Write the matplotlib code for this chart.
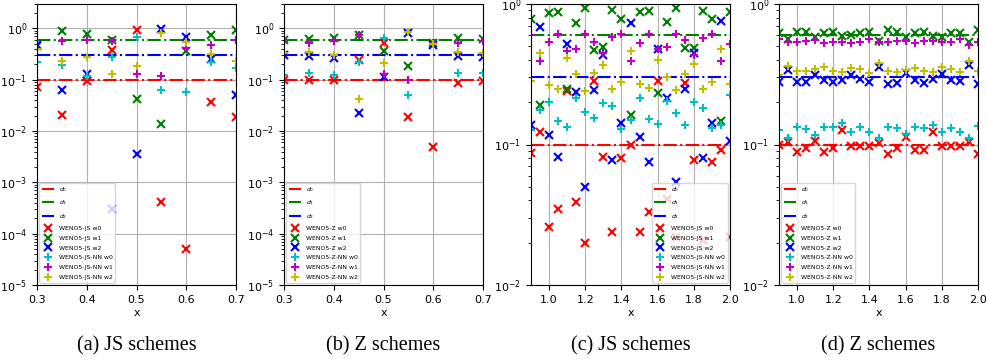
import matplotlib
matplotlib.use("Agg")
import matplotlib.pyplot as plt
from matplotlib.ticker import MultipleLocator

# poids ideaux
d_ideal = [0.1, 0.6, 0.3]

# (a) JS, zone 0.3 - 0.7
x_a = [0.3, 0.35, 0.4, 0.45, 0.5, 0.55, 0.6, 0.65, 0.7]
js_w0_a = [0.073, 0.0205, 0.095, 0.38, 0.95, 0.00041, 0.00005, 0.037, 0.019]
js_w1_a = [0.457, 0.89, 0.77, 0.6, 0.043, 0.014, 0.36, 0.74, 0.94]
js_w2_a = [0.47, 0.063, 0.13, 0.0003, 0.0036, 0.985, 0.69, 0.25, 0.05]
jsnn_w0_a = [0.22, 0.195, 0.12, 0.28, 0.69, 0.062, 0.058, 0.22, 0.17]
jsnn_w1_a = [0.39, 0.57, 0.6, 0.57, 0.13, 0.12, 0.42, 0.48, 0.59]
jsnn_w2_a = [0.39, 0.233, 0.28, 0.13, 0.186, 0.82, 0.55, 0.32, 0.233]

# (b) Z, zone 0.3 - 0.7
z_w0_b = [0.1, 0.098, 0.1, 0.24, 0.52, 0.0185, 0.0049, 0.088, 0.095]
z_w1_b = [0.6, 0.62, 0.64, 0.75, 0.37, 0.186, 0.53, 0.64, 0.62]
z_w2_b = [0.30, 0.29, 0.27, 0.023, 0.114, 0.80, 0.48, 0.29, 0.28]
znn_w0_b = [0.126, 0.138, 0.126, 0.22, 0.65, 0.05, 0.5, 0.134, 0.134]
znn_w1_b = [0.57, 0.53, 0.57, 0.74, 0.13, 0.1, 0.53, 0.53, 0.56]
znn_w2_b = [0.34, 0.35, 0.31, 0.042, 0.21, 0.87, 0.5, 0.35, 0.34]

# (c) JS, zone 0.9 - 2.0
x_c = [0.9, 0.95, 1.0, 1.05, 1.1, 1.15, 1.2, 1.25, 1.3, 1.35, 1.4, 1.45,
       1.5, 1.55, 1.6, 1.65, 1.7, 1.75, 1.8, 1.85, 1.9, 1.95, 2.0]
js_w0_c = [0.087, 0.122, 0.026, 0.035, 0.24, 0.039, 0.0198, 0.284, 0.081, 0.024, 0.08, 0.1,
           0.024, 0.033, 0.284, 0.041, 0.022, 0.272, 0.0775, 0.021, 0.0755, 0.091, 0.022]
js_w1_c = [0.78, 0.19, 0.86, 0.88, 0.25, 0.728, 0.94, 0.471, 0.497, 0.906, 0.78, 0.162,
           0.877, 0.89, 0.231, 0.74, 0.93, 0.484, 0.484, 0.89, 0.78, 0.147, 0.88]
js_w2_c = [0.138, 0.69, 0.117, 0.082, 0.516, 0.238, 0.05, 0.244, 0.434, 0.0775, 0.143, 0.736,
           0.114, 0.075, 0.48, 0.216, 0.054, 0.25, 0.45, 0.08, 0.143, 0.76, 0.106]
jsnn_w0_c = [0.127, 0.176, 0.2, 0.148, 0.133, 0.216, 0.171, 0.155, 0.196, 0.188, 0.128, 0.149,
             0.216, 0.153, 0.139, 0.205, 0.167, 0.138, 0.2, 0.183, 0.13, 0.138, 0.225]
jsnn_w1_c = [0.6, 0.39, 0.54, 0.61, 0.465, 0.48, 0.61, 0.54, 0.45, 0.58, 0.61, 0.395,
             0.53, 0.61, 0.48, 0.497, 0.61, 0.55, 0.43, 0.575, 0.61, 0.395, 0.52]
jsnn_w2_c = [0.285, 0.446, 0.265, 0.25, 0.41, 0.316, 0.24, 0.325, 0.368, 0.25, 0.28, 0.466,
             0.268, 0.254, 0.40, 0.3, 0.244, 0.32, 0.372, 0.25, 0.28, 0.476, 0.268]

# (d) Z, zone 0.9 - 2.0
z_w0_d = [0.099, 0.1045, 0.088, 0.095, 0.106, 0.088, 0.094, 0.126, 0.098, 0.098, 0.098, 0.103,
          0.086, 0.094, 0.1125, 0.091, 0.092, 0.122, 0.098, 0.097, 0.098, 0.105, 0.086]
z_w1_d = [0.618, 0.56, 0.635, 0.628, 0.586, 0.625, 0.635, 0.592, 0.602, 0.618, 0.628, 0.549,
          0.653, 0.628, 0.586, 0.618, 0.635, 0.592, 0.586, 0.618, 0.618, 0.54, 0.653]
z_w2_d = [0.28, 0.339, 0.28, 0.28, 0.311, 0.288, 0.28, 0.29, 0.311, 0.292, 0.28, 0.358,
          0.27, 0.272, 0.321, 0.288, 0.276, 0.292, 0.317, 0.288, 0.284, 0.368, 0.27]
znn_w0_d = [0.126, 0.111, 0.133, 0.128, 0.117, 0.134, 0.133, 0.143, 0.123, 0.134, 0.123, 0.111,
            0.134, 0.132, 0.119, 0.134, 0.132, 0.138, 0.123, 0.130, 0.123, 0.111, 0.136]
znn_w1_d = [0.56, 0.539, 0.539, 0.548, 0.554, 0.525, 0.539, 0.539, 0.531, 0.533, 0.56, 0.539,
            0.539, 0.548, 0.548, 0.525, 0.545, 0.548, 0.533, 0.539, 0.56, 0.511, 0.539]
znn_w2_d = [0.312, 0.362, 0.335, 0.333, 0.343, 0.358, 0.335, 0.330, 0.348, 0.343, 0.324, 0.378,
            0.335, 0.330, 0.339, 0.348, 0.335, 0.326, 0.358, 0.343, 0.326, 0.393, 0.335]

panneaux = [
    ("JS", x_a, [js_w0_a, js_w1_a, js_w2_a], [jsnn_w0_a, jsnn_w1_a, jsnn_w2_a],
     (1e-5, 3), (0.3, 0.7), "lower left", "(a) JS schemes"),
    ("Z", x_a, [z_w0_b, z_w1_b, z_w2_b], [znn_w0_b, znn_w1_b, znn_w2_b],
     (1e-5, 3), (0.3, 0.7), "lower left", "(b) Z schemes"),
    ("JS", x_c, [js_w0_c, js_w1_c, js_w2_c], [jsnn_w0_c, jsnn_w1_c, jsnn_w2_c],
     (1e-2, 1), (0.9, 2.0), "lower right", "(c) JS schemes"),
    ("Z", x_c, [z_w0_d, z_w1_d, z_w2_d], [znn_w0_d, znn_w1_d, znn_w2_d],
     (1e-2, 1), (0.9, 2.0), "lower left", "(d) Z schemes"),
]

W, H = 986, 362
fig = plt.figure(figsize=(W / 100, H / 100), dpi=100)
gauches = [37, 284, 531, 779]
largeur = 199
haut, bas = 4, 285

couleurs_d = ["r", "g", "b"]
couleurs_x = ["r", "g", "b"]
couleurs_p = ["c", "m", "y"]

for (nom, x, ws, wnn, ylim, xlim, loc, titre), g in zip(panneaux, gauches):
    ax = fig.add_axes([g / W, (H - bas) / H, largeur / W, (bas - haut) / H])
    for i in range(3):
        ax.axhline(d_ideal[i], color=couleurs_d[i], ls="-.", lw=1.5, label="$d_%d$" % i)
    for i in range(3):
        ax.plot(x, ws[i], "x", color=couleurs_x[i], ms=5.5, mew=1.5,
                label="WENO5-%s w%d" % (nom, i))
    for i in range(3):
        ax.plot(x, wnn[i], "+", color=couleurs_p[i], ms=6, mew=1.5,
                label="WENO5-%s-NN w%d" % (nom, i))
    ax.set_yscale("log")
    ax.set_ylim(ylim)
    ax.set_xlim(xlim)
    if xlim[1] > 1:
        ax.xaxis.set_major_locator(MultipleLocator(0.2))
    ax.grid(True)
    ax.tick_params(labelsize=8)
    ax.set_xlabel("x", fontsize=8, labelpad=2)
    ax.legend(loc=loc, fontsize=4.4, labelspacing=0.75, borderaxespad=0.4)
    fig.text((g + largeur / 2) / W, 1 - 346 / H, titre, ha="center", va="center",
             family="Liberation Serif", fontsize=14.5)

fig.savefig("out.png", dpi=100)
